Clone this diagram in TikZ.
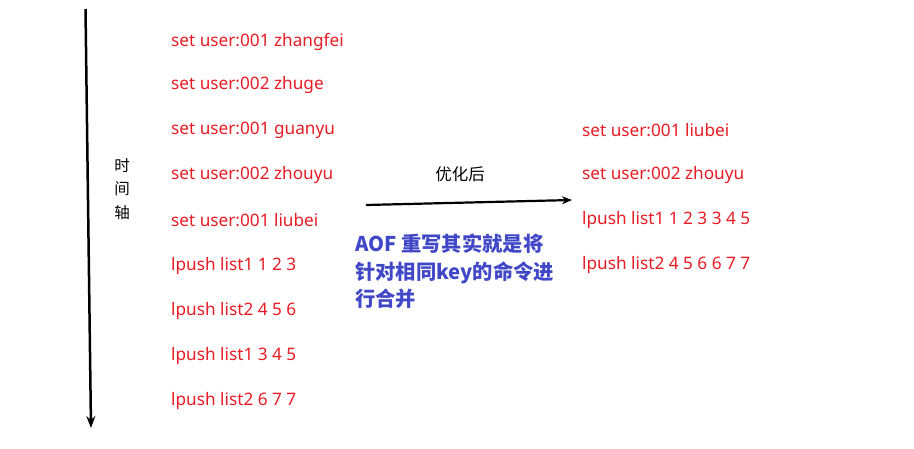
\documentclass[tikz,border=0pt]{standalone}
\usepackage{fontspec}
\setmainfont{Noto Sans}
\newfontfamily\cjk{Noto Sans CJK SC}
\usetikzlibrary{arrows.meta}
\definecolor{cmdred}{RGB}{232,28,36}
\definecolor{noteblue}{RGB}{64,72,200}
\begin{document}
\begin{tikzpicture}[x=1pt,y=-1pt,
    cmd/.style={anchor=west,inner sep=0pt,text=cmdred,font=\fontsize{17.2}{18}\selectfont},
    note/.style={anchor=north west,inner sep=0pt,text=noteblue,align=left,font=\cjk\fontsize{20.3}{27.5}\selectfont\bfseries},
    axis/.style={line width=2.5pt,-{Stealth[length=12pt,width=9pt]}}]
    \useasboundingbox (0,0) rectangle (914,448);

    \coordinate (T1) at (85.5, 9);
    \coordinate (T2) at (91, 428);
    \draw[axis] (T1) -- (T2);
    \node (L1) at (122, 166) {\cjk\fontsize{15.5}{16}\selectfont 时};
    \node (L2) at (122, 189) {\cjk\fontsize{15.5}{16}\selectfont 间};
    \node (L3) at (122, 213) {\cjk\fontsize{15.5}{16}\selectfont 轴};

    \node[cmd] (A1) at (171, 41.5) {set user:001 zhangfei};
    \node[cmd] (A2) at (171, 85.5) {set user:002 zhuge};
    \node[cmd] (A3) at (171, 130.5) {set user:001 guanyu};
    \node[cmd] (A4) at (171, 175.5) {set user:002 zhouyu};
    \node[cmd] (A5) at (171, 220.5) {set user:001 liubei};
    \node[cmd] (A6) at (171, 266.5) {lpush list1 1 2 3};
    \node[cmd] (A7) at (171, 311.5) {lpush list2 4 5 6};
    \node[cmd] (A8) at (171, 356.5) {lpush list1 3 4 5};
    \node[cmd] (A9) at (171, 401.5) {lpush list2 6 7 7};

    \coordinate (M1) at (366, 205);
    \coordinate (M2) at (572, 200);
    \draw[line width=2.2pt,-{Stealth[length=10pt,width=8pt]}] (M1) -- (M2);
    \node (O) at (460, 174) {\cjk\fontsize{16.5}{18}\selectfont 优化后};

    \node[note] (N) at (355, 234) {AOF 重写其实就是将\\针对相同key的命令进\\行合并};

    \node[cmd] (B1) at (582, 130.5) {set user:001 liubei};
    \node[cmd] (B2) at (582, 175.5) {set user:002 zhouyu};
    \node[cmd] (B3) at (582, 220.5) {lpush list1 1 2 3 3 4 5};
    \node[cmd] (B4) at (582, 265.5) {lpush list2 4 5 6 6 7 7};
\end{tikzpicture}
\end{document}
